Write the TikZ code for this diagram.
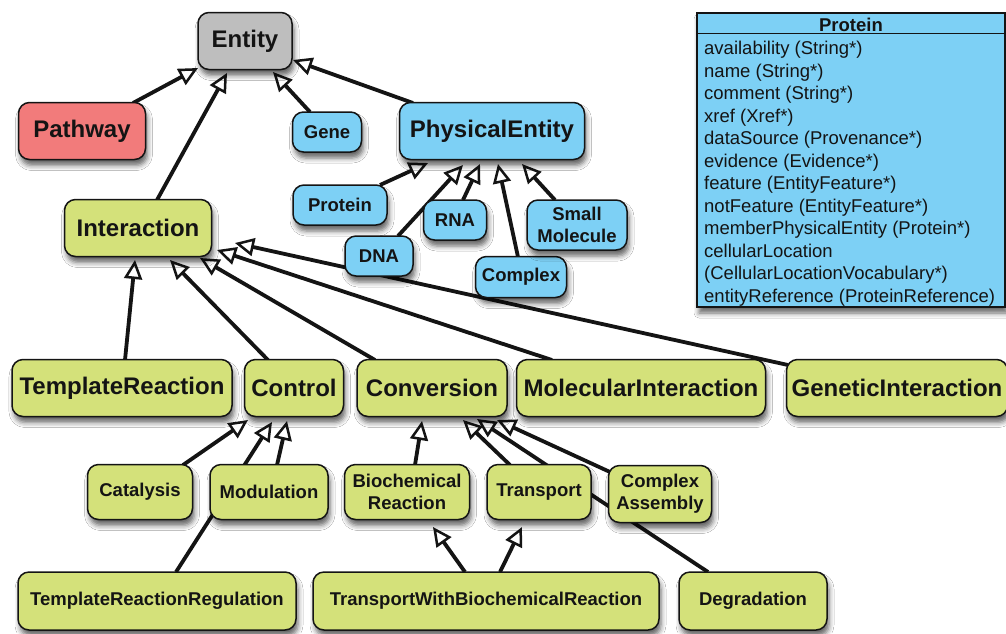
\documentclass[tikz,border=0pt]{standalone}
\usepackage{fontspec}
\setmainfont{Liberation Sans}
\usetikzlibrary{arrows.meta,shadows.blur,backgrounds,calc}
\definecolor{entgray}{RGB}{190,190,190}
\definecolor{pathpink}{RGB}{242,123,123}
\definecolor{peblue}{RGB}{125,208,245}
\definecolor{intgreen}{RGB}{212,225,122}
\definecolor{inkc}{RGB}{20,20,20}
\begin{document}
\begin{tikzpicture}[x=1pt,y=-1pt,
  boxnode/.style={draw=inkc, line width=1.5pt, rounded corners=11pt, inner sep=0pt,
    text=inkc, align=center,
    blur shadow={shadow xshift=2pt, shadow yshift=-6pt, shadow blur radius=5pt, shadow opacity=60}},
  bignode/.style={boxnode, font=\bfseries\fontsize{24}{27}\selectfont},
  smallnode/.style={boxnode, font=\bfseries\fontsize{18.5}{22}\selectfont},
  inh/.style={line width=3.8pt, inkc,
    -{Triangle[length=19pt,width=18pt,fill=white,line width=2.5pt]}},
  attr/.style={inner sep=0pt, text=inkc, font=\fontsize{18.5}{22.5}\selectfont, anchor=base west}]
\useasboundingbox (0,0) rectangle (1006,633);

% top level
\node[bignode, fill=entgray, minimum width=94pt, minimum height=57pt] (entity) at (245,41) {Entity};
\node[bignode, fill=pathpink, minimum width=127pt, minimum height=57pt] (pathway) at (82,131) {Pathway};
\node[smallnode, fill=peblue, minimum width=69pt, minimum height=40pt] (gene) at (327,132) {Gene};
\node[bignode, fill=peblue, minimum width=185pt, minimum height=57pt] (physical) at (492,131) {PhysicalEntity};
\node[smallnode, fill=peblue, minimum width=94pt, minimum height=40pt] (protein) at (340,205) {Protein};
\node[smallnode, fill=peblue, minimum width=63pt, minimum height=40pt] (rna) at (455,220) {RNA};
\node[smallnode, fill=peblue, minimum width=68pt, minimum height=40pt] (dna) at (379,256) {DNA};
\node[smallnode, fill=peblue, minimum width=91pt, minimum height=41pt] (complex) at (521,277) {Complex};
\node[smallnode, fill=peblue, minimum width=100pt, minimum height=50pt] (smallmol) at (577,225) {Small\\Molecule};
\node[bignode, fill=intgreen, minimum width=147pt, minimum height=57pt] (interaction) at (138,228) {Interaction};

% interaction subclasses
\node[bignode, fill=intgreen, minimum width=220pt, minimum height=57pt] (tr) at (122,388) {TemplateReaction};
\node[bignode, fill=intgreen, minimum width=99pt, minimum height=57pt] (control) at (294,388) {Control};
\node[bignode, fill=intgreen, minimum width=150pt, minimum height=57pt] (conversion) at (432,388) {Conversion};
\node[bignode, fill=intgreen, minimum width=249pt, minimum height=57pt] (mi) at (641,388) {MolecularInteraction};
\node[bignode, fill=intgreen, minimum width=221pt, minimum height=57pt] (gi) at (897,388) {GeneticInteraction};

\node[smallnode, fill=intgreen, minimum width=105pt, minimum height=55pt] (catalysis) at (140,492) {Catalysis};
\node[smallnode, fill=intgreen, minimum width=118pt, minimum height=55pt] (modulation) at (269,492) {Modulation};
\node[smallnode, fill=intgreen, minimum width=125pt, minimum height=55pt] (biochem) at (407,492) {Biochemical\\Reaction};
\node[smallnode, fill=intgreen, minimum width=104pt, minimum height=55pt] (transport) at (539,492) {Transport};
\node[smallnode, fill=intgreen, minimum width=103pt, minimum height=57pt] (ca) at (660,494) {Complex\\Assembly};

\node[smallnode, fill=intgreen, minimum width=278pt, minimum height=58pt] (trr) at (157,601) {TemplateReactionRegulation};
\node[smallnode, fill=intgreen, minimum width=346pt, minimum height=58pt] (twbr) at (486,601) {TransportWithBiochemicalReaction};
\node[smallnode, fill=intgreen, minimum width=148pt, minimum height=58pt] (degradation) at (753,601) {Degradation};

% Protein class box
\node[draw=inkc, line width=1.5pt, fill=peblue, inner sep=0pt, minimum width=308pt, minimum height=294pt,
  blur shadow={shadow xshift=2pt, shadow yshift=-6pt, shadow blur radius=5pt, shadow opacity=60}] (pbox) at (851,160) {};
\node[inner sep=0pt, text=inkc, font=\bfseries\fontsize{18.5}{22}\selectfont] (ptitle) at (851,25) {Protein};
\coordinate (hdl) at ($(pbox.north west)+(0,21)$);
\coordinate (hdr) at ($(pbox.north east)+(0,21)$);
\draw[inkc, line width=1.2pt] (hdl) -- (hdr);
\foreach \t [count=\i] in {{availability (String*)},{name (String*)},{comment (String*)},{xref (Xref*)},
  {dataSource (Provenance*)},{evidence (Evidence*)},{feature (EntityFeature*)},{notFeature (EntityFeature*)},
  {memberPhysicalEntity (Protein*)},{cellularLocation},{(CellularLocationVocabulary*)},{entityReference (ProteinReference)}}
  \node[attr] (attr\i) at (704,{54.5+22.5*(\i-1)}) {\t};

\begin{scope}[on background layer]
\fill[white] (0,0) rectangle (1006,633);
\draw[inh] ($(pathway.center)+(51,-28)$) -- ($(entity.center)+(-47,27)$);
\draw[inh] ($(interaction.center)+(19,-28)$) -- ($(entity.center)+(-18,32)$);
\draw[inh] ($(gene.center)+(-17,-20)$) -- ($(entity.center)+(28,31)$);
\draw[inh] ($(physical.center)+(-79,-28)$) -- ($(entity.center)+(48,19)$);
\draw[inh] ($(protein.center)+(40,-20)$) -- ($(physical.center)+(-64,32)$);
\draw[inh] ($(dna.center)+(19,-20)$) -- ($(physical.center)+(-29,34)$);
\draw[inh] ($(rna.center)+(8,-20)$) -- ($(physical.center)+(-12,33)$);
\draw[inh] ($(complex.center)+(-3,-20)$) -- ($(physical.center)+(6,33)$);
\draw[inh] ($(smallmol.center)+(-22,-25)$) -- ($(physical.center)+(30,33)$);
\draw[inh] ($(tr.center)+(3,-28)$) -- ($(interaction.center)+(-3,32)$);
\draw[inh] ($(control.center)+(-26,-28)$) -- ($(interaction.center)+(32,32)$);
\draw[inh] ($(conversion.center)+(-57,-28)$) -- ($(interaction.center)+(62,30)$);
\draw[inh] ($(mi.center)+(-89,-28)$) -- ($(interaction.center)+(79,22)$);
\draw[inh] ($(gi.center)+(-109,-23)$) -- ($(interaction.center)+(97,15)$);
\draw[inh] ($(catalysis.center)+(43,-27)$) -- ($(control.center)+(-46,32)$);
\draw[inh] ($(modulation.center)+(8,-27)$) -- ($(control.center)+(-7,33)$);
\draw[inh] ($(trr.center)+(19,-29)$) -- ($(control.center)+(-22,34)$);
\draw[inh] ($(biochem.center)+(8,-27)$) -- ($(conversion.center)+(-10,33)$);
\draw[inh] ($(transport.center)+(-29,-27)$) -- ($(conversion.center)+(31,32)$);
\draw[inh] ($(degradation.center)+(-45,-29)$) -- ($(conversion.center)+(45,31)$);
\draw[inh] ($(ca.center)+(-50,-22)$) -- ($(conversion.center)+(65,32)$);
\draw[inh] ($(twbr.center)+(-21,-29)$) -- ($(biochem.center)+(26,35)$);
\draw[inh] ($(twbr.center)+(14,-29)$) -- ($(transport.center)+(-17,35)$);
\end{scope}
\end{tikzpicture}
\end{document}
